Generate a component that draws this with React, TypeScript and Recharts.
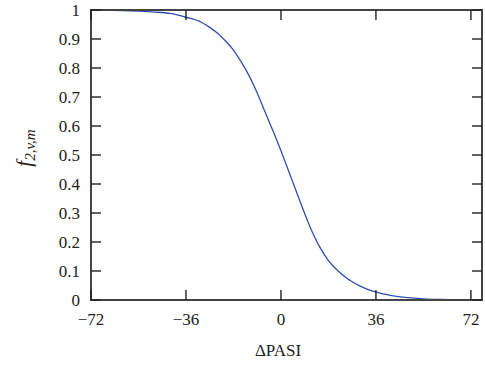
import { Label, Line, LineChart, XAxis, YAxis } from "recharts";

const deltaPasi = [-72, -66, -60, -54, -48, -42, -36, -30, -27, -24, -21, -18, -15, -12, -9, -6, -3, 0, 3, 6, 9, 12, 15, 18, 21, 24, 27, 30, 36, 42, 48, 54, 60, 66, 72];
const fValues = [1.0, 0.999, 0.998, 0.996, 0.993, 0.988, 0.975, 0.957, 0.94, 0.92, 0.893, 0.862, 0.82, 0.772, 0.714, 0.648, 0.583, 0.515, 0.442, 0.37, 0.298, 0.232, 0.178, 0.136, 0.106, 0.082, 0.063, 0.048, 0.027, 0.015, 0.008, 0.004, 0.002, 0.001, 0.0005];
const xTicks = [-72, -36, 0, 36, 72];
const yTicks = [0, 0.1, 0.2, 0.3, 0.4, 0.5, 0.6, 0.7, 0.8, 0.9, 1];
const xMax = 76.2;

const data = deltaPasi.map((x, i) => ({ x, f: fValues[i] }));

const FONT = "Liberation Serif";
const INK = "#222";
const FRAME = "#444";
const TICK = 10;
// plot box edges (margin + axis sizes below)
const PLOT_LEFT = 91;
const PLOT_TOP = 10;
const PLOT_RIGHT = 482;
const PLOT_BOTTOM = 300;

function BottomTick({ x, y, payload }: any) {
  return (
    <g>
      <line x1={x} x2={x} y1={y} y2={y - TICK} stroke={INK} strokeWidth={1.4} />
      <line x1={x} x2={x} y1={PLOT_TOP} y2={PLOT_TOP + TICK} stroke={INK} strokeWidth={1.4} />
      <text x={x} y={y + 25} textAnchor="middle" fontFamily={FONT} fontSize={17} fill={INK}>
        {payload.value < 0 ? `\u2212${Math.abs(payload.value)}` : payload.value}
      </text>
    </g>
  );
}

function LeftTick({ x, y, payload }: any) {
  return (
    <g>
      <line x1={x} x2={x + TICK} y1={y} y2={y} stroke={INK} strokeWidth={1.4} />
      <line x1={PLOT_RIGHT} x2={PLOT_RIGHT - TICK} y1={y} y2={y} stroke={INK} strokeWidth={1.4} />
      <text x={x - 11} y={y + 6} textAnchor="end" fontFamily={FONT} fontSize={17} fill={INK}>
        {payload.value}
      </text>
    </g>
  );
}

export default function App() {
  return (
    <div style={{ position: "absolute", left: 0, top: 0, width: 485, height: 365 }}>
      <LineChart width={485} height={365} data={data} margin={{ top: PLOT_TOP, right: 485 - PLOT_RIGHT, left: 0, bottom: 0 }}>
        <XAxis
          dataKey="x"
          type="number"
          domain={[-72, xMax]}
          ticks={xTicks}
          height={365 - PLOT_BOTTOM}
          tickSize={0}
          tickMargin={0}
          tick={<BottomTick />}
          stroke={FRAME}
          strokeWidth={2}
        >
          <Label
            content={() => (
              <text x={278} y={356} textAnchor="middle" fontFamily={FONT} fontSize={17} fill={INK}>
                ΔPASI
              </text>
            )}
          />
        </XAxis>
        <YAxis
          type="number"
          domain={[0, 1]}
          ticks={yTicks}
          width={PLOT_LEFT}
          tickSize={0}
          tickMargin={0}
          tick={<LeftTick />}
          stroke={FRAME}
          strokeWidth={2}
        >
          <Label
            content={() => (
              <g>
                <rect
                  x={PLOT_LEFT}
                  y={PLOT_TOP}
                  width={PLOT_RIGHT - PLOT_LEFT}
                  height={PLOT_BOTTOM - PLOT_TOP}
                  fill="none"
                  stroke={FRAME}
                  strokeWidth={2}
                />
                <text
                  x={31}
                  y={148}
                  transform="rotate(-90, 31, 148)"
                  textAnchor="middle"
                  fontFamily={FONT}
                  fontStyle="italic"
                  fill={INK}
                >
                  <tspan fontSize={21}>f</tspan>
                  <tspan fontSize={15} dy={4}>2,v,m</tspan>
                </text>
              </g>
            )}
          />
        </YAxis>
        <Line
          type="monotone"
          dataKey="f"
          stroke="#2f4fb0"
          strokeWidth={1.3}
          dot={false}
          isAnimationActive={false}
        />
      </LineChart>
    </div>
  );
}
